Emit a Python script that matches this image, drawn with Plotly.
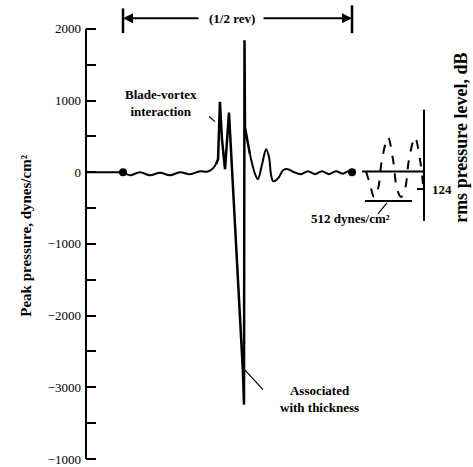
import plotly.graph_objects as go

# ---- data (azimuth in degrees over 1/2 rev, pressure in dynes/cm^2) ----
wave_deg = [0, 5.5, 13.4, 21.2, 29.1, 36.9, 44.8, 52.7, 60.5, 66.0, 70.0, 73.1, 74.7,
            76.2, 77.8, 80.2, 83.3, 94.3, 95.1, 95.5, 95.9, 99.8, 103.8, 106.1, 109.3,
            112.4, 114.8, 116.3, 117.9, 120.3, 122.6, 125.8, 129.7, 134.4, 139.9, 145.4,
            150.9, 156.4, 161.9, 167.4, 172.9, 176.9, 180]
wave_p = [0, -42, 0, -42, -7, -42, 0, -28, 14, 7, 42, 111, 180,
          983, 457, 42, 831, -2798, -3241, 1842, 623, 249, -28, -97, 111,
          319, 208, -28, -125, -111, -69, 28, 42, 0, -28, 14,
          -28, 14, -28, 14, -21, 14, 0]
SPIKE_START, SPIKE_END = 11, 21   # indices bounding the sharp pulse section

end_deg = [0, 180]
end_p = [0, 0]

rms_deg = [191.0, 194.1, 197.3, 200.4, 203.6, 208.3, 212.2, 215.4, 218.5, 221.7, 224.8, 229.5, 233.4, 235.8]
rms_p = [14, -166, -346, -235, 180, 485, 180, -235, -346, -235, 180, 485, 180, -166]

rms_base_deg = [187.9, 235.8]
rms_base_p = [10, 10]
rms_low_deg = [190.2, 227.2]
rms_low_p = [-402, -402]
rms_axis_deg = [236.6, 236.6]
rms_axis_p = [873, -679]
rms_tick_deg = [231.1, 236.6]
rms_tick_p = [-235, -235]

ytick_vals = [-4000, -3500, -3000, -2500, -2000, -1500, -1000, -500, 0, 500, 1000, 1500, 2000]
ytick_text = ["\u22121000", "", "\u22123000", "", "\u22122000", "", "\u22121000", "", "0", "", "1000", "", "2000"]

XR = [-29.08, 275.1]
YR = [-4069.3, 2401.8]
FONT = "Liberation Serif"

fig = go.Figure()

# smooth wavy baseline before / after the pulse, sharp pulse in the middle
fig.add_trace(go.Scatter(x=wave_deg[:SPIKE_START + 1], y=wave_p[:SPIKE_START + 1], mode="lines",
                         line=dict(color="black", width=2, shape="spline", smoothing=1.0),
                         hoverinfo="skip"))
fig.add_trace(go.Scatter(x=wave_deg[SPIKE_START:SPIKE_END + 1], y=wave_p[SPIKE_START:SPIKE_END + 1],
                         mode="lines", line=dict(color="black", width=2.5), hoverinfo="skip"))
fig.add_trace(go.Scatter(x=wave_deg[SPIKE_END:], y=wave_p[SPIKE_END:], mode="lines",
                         line=dict(color="black", width=2, shape="spline", smoothing=0.8),
                         hoverinfo="skip"))
fig.add_trace(go.Scatter(x=end_deg, y=end_p, mode="markers",
                         marker=dict(color="black", size=8), hoverinfo="skip"))
fig.add_trace(go.Scatter(x=rms_deg, y=rms_p, mode="lines",
                         line=dict(color="black", width=2, dash="dash", shape="spline"),
                         hoverinfo="skip"))
for xs, ys in [(rms_base_deg, rms_base_p), (rms_low_deg, rms_low_p),
               (rms_axis_deg, rms_axis_p), (rms_tick_deg, rms_tick_p)]:
    fig.add_trace(go.Scatter(x=xs, y=ys, mode="lines",
                             line=dict(color="black", width=2), hoverinfo="skip"))

# pointer lines
pointers = [([67.6, 72.3], [776, 706]), ([94.3, 110.0], [-2728, -3033]),
            ([207.5, 200.4], [-429, -582])]
for xs, ys in pointers:
    fig.add_trace(go.Scatter(x=xs, y=ys, mode="lines",
                             line=dict(color="black", width=1.2), hoverinfo="skip"))

# half-rev bracket bars
fig.add_trace(go.Scatter(x=[0, 0], y=[2285, 1939], mode="lines",
                         line=dict(color="black", width=2.5), hoverinfo="skip"))
fig.add_trace(go.Scatter(x=[180, 180], y=[2327, 1939], mode="lines",
                         line=dict(color="black", width=2.5), hoverinfo="skip"))

shapes = [
    dict(type="line", xref="paper", yref="y", x0=0, x1=0, y0=-4000, y1=2000,
         line=dict(color="black", width=2)),
    dict(type="line", xref="x", yref="y", x0=XR[0], x1=0, y0=0, y1=0,
         line=dict(color="black", width=2)),
]

tf = dict(family=FONT, size=13, color="black")
annotations = [
    dict(x=29.9, y=969, xref="x", yref="y", text="<b>Blade-vortex<br>interaction</b>",
         showarrow=False, font=tf),
    dict(x=154.1, y=-3158, xref="x", yref="y", text="<b>Associated<br>with thickness</b>",
         showarrow=False, font=tf),
    dict(x=179.2, y=-640, xref="x", yref="y", text="<b>512 dynes/cm²</b>",
         showarrow=False, font=tf),
    dict(x=241.3, y=-235, xref="x", yref="y", text="<b>124</b>", xanchor="left",
         showarrow=False, font=tf),
    dict(x=85.7, y=2147, xref="x", yref="y", text="<b>(1/2 rev)</b>",
         showarrow=False, font=tf),
    dict(x=0, y=2147, xref="x", yref="y", ax=60.5, ay=2147, axref="x", ayref="y",
         text="", showarrow=True, arrowhead=2, arrowsize=1, arrowwidth=2, arrowcolor="black"),
    dict(x=180, y=2147, xref="x", yref="y", ax=109.3, ay=2147, axref="x", ayref="y",
         text="", showarrow=True, arrowhead=2, arrowsize=1, arrowwidth=2, arrowcolor="black"),
    dict(x=-0.181, y=-886, xref="paper", yref="y", text="<b>Peak pressure, dynes/cm²</b>",
         textangle=-90, showarrow=False, font=dict(family=FONT, size=15, color="black")),
    dict(x=266.0, y=485, xref="x", yref="y", text="<b>rms pressure level, dB</b>",
         textangle=-90, showarrow=False, font=dict(family=FONT, size=18, color="black")),
]

fig.update_layout(
    width=473, height=467,
    margin=dict(l=86, r=0, t=0, b=0),
    paper_bgcolor="white", plot_bgcolor="white",
    showlegend=False,
    xaxis=dict(range=XR, visible=False, fixedrange=True),
    yaxis=dict(range=YR, tickvals=ytick_vals, ticktext=ytick_text,
               ticks="inside", ticklen=10, tickwidth=2, tickcolor="black",
               showgrid=False, zeroline=False, showline=False,
               tickfont=dict(family=FONT, size=13, color="black"),
               ticklabelstandoff=4, ticklabeloverflow="allow", fixedrange=True),
    shapes=shapes, annotations=annotations,
)

fig.write_html("out.html", config={"displayModeBar": False},
               post_script="document.body.style.margin='0';document.body.style.overflow='hidden';")
